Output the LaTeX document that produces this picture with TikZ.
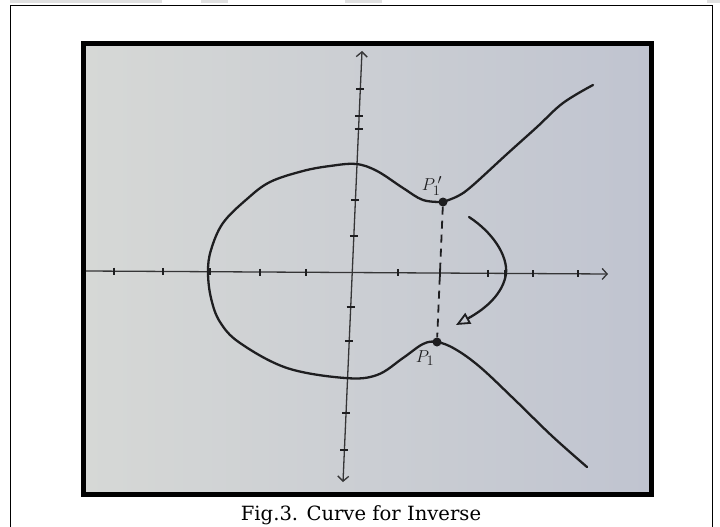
\documentclass[tikz,border=0pt]{standalone}
\usepackage{fontspec}
\newfontfamily\capfont{DejaVu Serif}
\usetikzlibrary{arrows.meta}
\definecolor{paperL}{RGB}{214,216,214}
\definecolor{paperM}{RGB}{206,209,211}
\definecolor{paperR}{RGB}{192,196,208}
\definecolor{ink}{RGB}{30,30,32}
\begin{document}
\begin{tikzpicture}[x=1pt,y=-1pt,
 curve/.style={line width=2.3pt, line cap=round, line join=round, color=ink},
 axis/.style={line width=1.3pt, color=ink!90},
 tickmark/.style={line width=2pt, color=ink},
 dotnode/.style={circle, fill=ink, inner sep=0pt, minimum size=9pt},
 lab/.style={font=\fontsize{19}{21}\selectfont, inner sep=0pt, text=ink},
 barb/.style={-{Straight Barb[length=5pt,width=11pt,line width=1.3pt]}}]
\useasboundingbox (0,0) rectangle (720,527);
\fill[white] (0,0) rectangle (720,527);
% remnants of the page above
\fill[black!12] (10,0) rectangle (162,3);
\fill[black!12] (201,0) rectangle (228,3);
\fill[black!12] (345,0) rectangle (382,3);
\fill[black!12] (707,0) rectangle (720,3);
% outer border
\draw[line width=1.3pt] (10.5,527) -- (10.5,5.5) -- (712.5,5.5) -- (712.5,527);
% photo
\shade[left color=paperL, middle color=paperM, right color=paperR] (83.5,43.5) rectangle (651.5,494.5);
\draw[line width=5pt] (83.5,43.5) rectangle (651.5,494.5);
% axes
\coordinate (xl) at (86,271);
\coordinate (xr) at (608,274);
\coordinate (yt) at (362,51);
\coordinate (yb) at (343,482);
\draw[axis, barb] (xl) -- (xr);
\draw[axis, {Straight Barb[length=5pt,width=11pt,line width=1.3pt]}-{Straight Barb[length=5pt,width=11pt,line width=1.3pt]}] (yb) -- (yt);
% ticks on x-axis
\foreach \x in {114,163,210,260,306,398,440,488,505,533,578}
  \draw[tickmark] (\x,{271+3*(\x-85)/522-3.5}) -- ++(0,7);
% ticks on y-axis
\foreach \y in {89,116,129,200,236,307,341,413,450}
  \draw[tickmark] ({362-0.0443*(\y-52)-4},\y) -- ++(8,0);
% points
\node[dotnode] (P1p) at (443,202) {};
\node[dotnode] (P1) at (437,342) {};
% closed part and branches
\draw[curve] plot[smooth, tension=0.6] coordinates {
 (P1p) (423,200) (403,188) (377,171) (356,164) (330,166) (303,171) (270,182) (247,199)
 (223,223) (211,250) (208,272) (211,298) (220,322) (240,343) (287,368) (345,378)
 (377,375) (403,358) (423,344) (P1) (455,349) (480,367) (515,400) (552,436) (587,467)};
\draw[curve] plot[smooth, tension=0.6] coordinates {
 (P1p) (458,196) (472,186) (507,154) (537,127) (563,103) (593,85)};
% dashed vertical
\draw[line width=1.8pt, color=ink, dash pattern=on 8pt off 6pt] (P1p) -- (P1);
% curved arrow
\coordinate (a0) at (469,217);
\coordinate (a1) at (506,274);
\coordinate (a2) at (456,325);
\draw[curve, -{Triangle[open,length=14pt,width=12pt,line width=1.8pt]}]
 (a0) .. controls (492,232) and (508,255) .. (a1) .. controls (503,293) and (487,308) .. (a2);
% labels
\node[lab] (l1) at (432,186) {$P_1^{\,\prime}$};
\node[lab] (l2) at (425,358) {$P_1$};
% caption
\node[font=\capfont\fontsize{19.6}{22}\selectfont, anchor=base, inner sep=0pt] (cap) at (361,520) {Fig.3. Curve for Inverse};
\end{tikzpicture}
\end{document}
